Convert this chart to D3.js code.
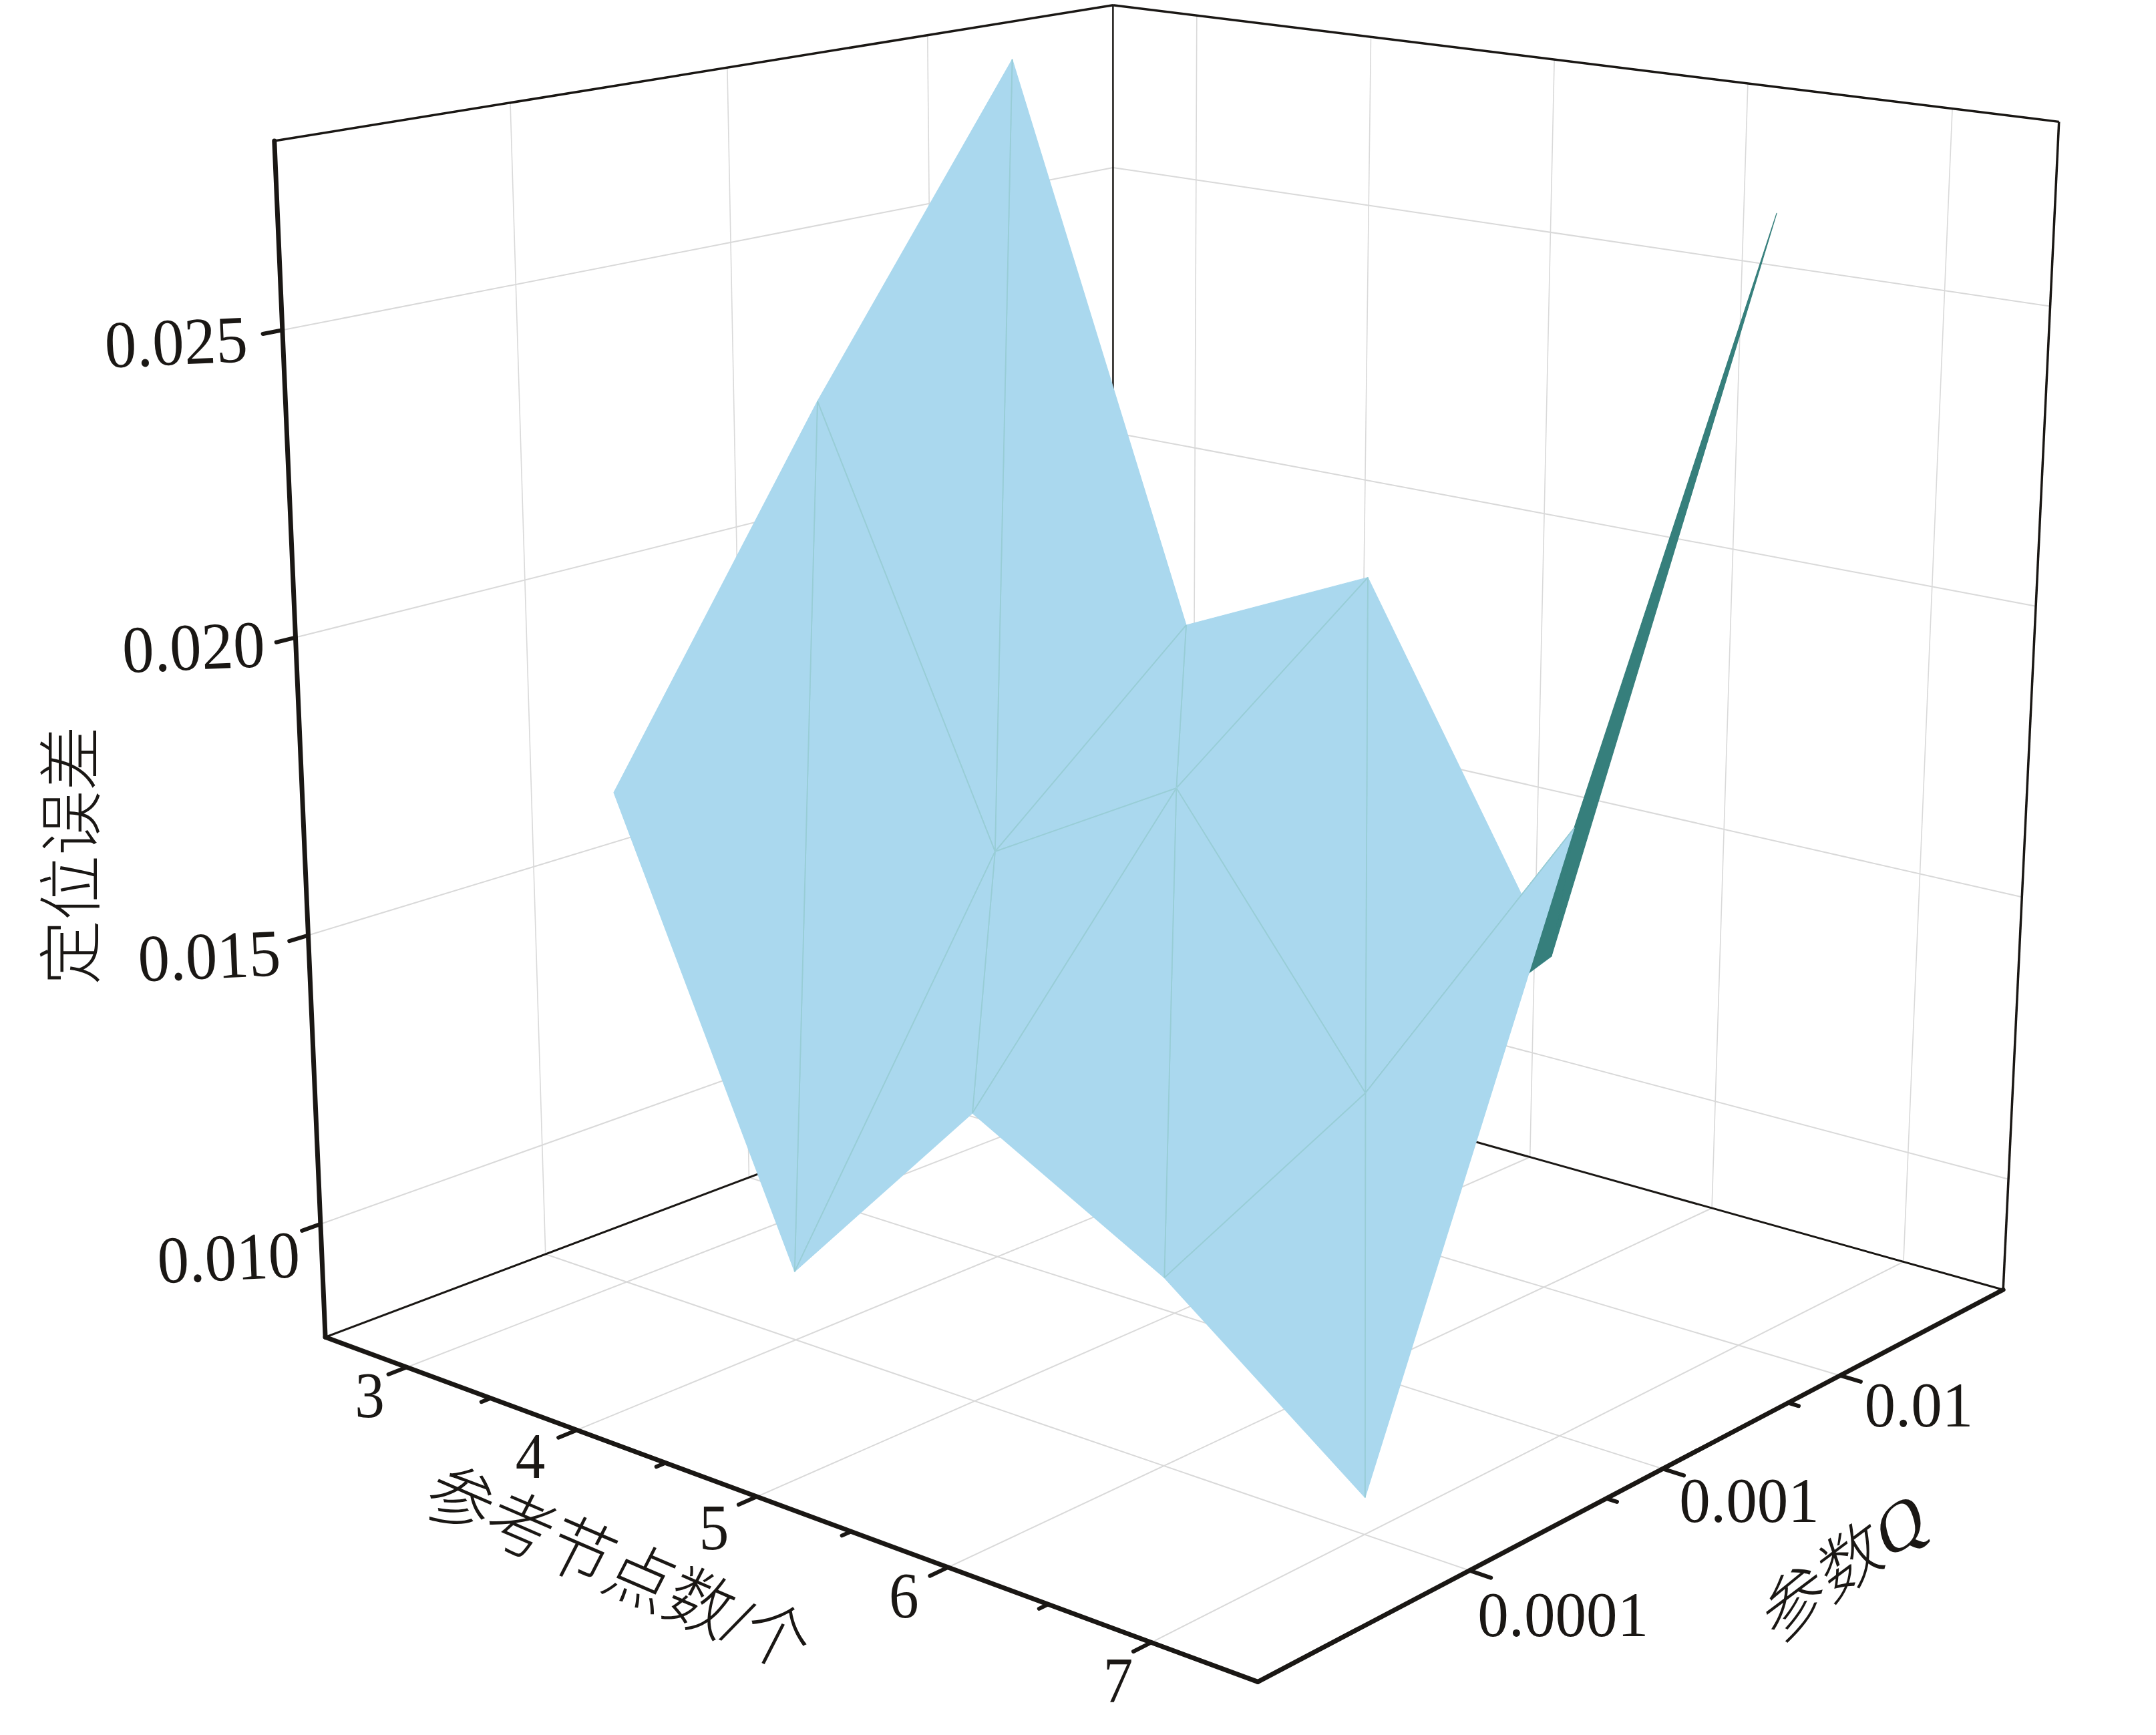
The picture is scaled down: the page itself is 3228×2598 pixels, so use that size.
<!DOCTYPE html>
<html>
<head>
<meta charset="UTF-8">
<style>
body { margin: 0; background: #fff; }
text { font-family: "Liberation Serif", "Noto Sans CJK SC"; fill: #1a1714; }
.cjk { font-weight: 300; }
</style>
</head>
<body>
<svg id="chart" width="3228" height="2598"></svg>
<script src="https://d3js.org/d3.v7.min.js"></script>
<script>

// values
const nodeCounts = [3, 4, 5, 6, 7];
const qValues = [0.0001, 0.001, 0.01];
const errorAtQ4 = [0.01669, 0.00921, 0.01292, 0.01115, 0.00861];
const errorAtQ3 = [0.02251, 0.01531, 0.01719, 0.01284, 0.01808];
const errorAtQ2 = [0.02777, 0.01828, 0.01979, 0.01392, 0.02696];
const errorRows = [errorAtQ4, errorAtQ3, errorAtQ2];

const nodeMinorTicks = [3.5, 4.5, 5.5, 6.5];
const qMinorTicks = [0.0005, 0.005];
const zTicks = [0.010, 0.015, 0.020, 0.025];
const qTickLabels = ["0.0001", "0.001", "0.01"];
const zTickLabels = ["0.010", "0.015", "0.020", "0.025"];

// layout: label offsets from the tick ends, in px
const nodeLabelShift = [[-28, 31], [-42, 27], [-37, 34], [-39, 30], [-23, 43]];
const qLabelShift = [[108, 55], [98, 37], [87, 35]];
const zLabelShift = [[-110, 40], [-120, 22], [-124, 7], [-130, 12]];

const blue = "#aad8ee", teal = "#367f7c", mesh = "#98cdd6";
const gridColor = "#d9d9d9", ink = "#1a1714";

let x = d3.scaleLinear().domain([2.5, 7.5]).range([0, 1]);
let y = d3.scaleLog().domain([1e-5, 1e-1]).range([0, 1]);
let z = d3.scaleLinear().domain([0.008, 0.028]).range([0, 1]);

// box corners on the page, used to fit the perspective of the 3D box
const boxCorners = [
  [[0, 0, 0], [488, 2003.5]], [[1, 0, 0], [1882, 2518]], [[1, 1, 0], [3000, 1931]], [[0, 1, 0], [1666, 1557]],
  [[0, 0, 1], [411, 210]], [[1, 1, 1], [3083, 183]], [[0, 1, 1], [1666, 8]]
];

function solve(A, b) {
  const n = b.length;
  const M = A.map((r, i) => [...r, b[i]]);
  for (let i = 0; i < n; i++) {
    let p = i;
    for (let r = i + 1; r < n; r++) if (Math.abs(M[r][i]) > Math.abs(M[p][i])) p = r;
    [M[i], M[p]] = [M[p], M[i]];
    for (let r = 0; r < n; r++) {
      if (r == i) continue;
      const f = M[r][i] / M[i][i];
      for (let c = i; c <= n; c++) M[r][c] -= f * M[i][c];
    }
  }
  return M.map((r, i) => r[n] / r[i]);
}

const rows = [], rhs = [];
boxCorners.forEach(([[X, Y, Z], [px, py]]) => {
  rows.push([X, Y, Z, 1, 0, 0, 0, 0, -px * X, -px * Y, -px * Z]); rhs.push(px);
  rows.push([0, 0, 0, 0, X, Y, Z, 1, -py * X, -py * Y, -py * Z]); rhs.push(py);
});
const AtA = d3.range(11).map(i => d3.range(11).map(j => d3.sum(rows, r => r[i] * r[j])));
const Atb = d3.range(11).map(i => d3.sum(rows, (r, k) => r[i] * rhs[k]));
const m = solve(AtA, Atb);

function project([X, Y, Z]) {
  const w = m[8] * X + m[9] * Y + m[10] * Z + 1;
  return [(m[0] * X + m[1] * Y + m[2] * Z + m[3]) / w, (m[4] * X + m[5] * Y + m[6] * Z + m[7]) / w];
}

let svg = d3.select("#chart");
const line = d3.line();

function seg(g, a, b, color, width, cap) {
  return g.append("path")
    .attr("d", line([project(a), project(b)]))
    .attr("fill", "none")
    .attr("stroke", color)
    .attr("stroke-width", width)
    .attr("stroke-linecap", cap || "butt");
}

// gridlines on the floor and the two back walls
const grid = svg.append("g").attr("id", "grid");
nodeCounts.forEach(n => {
  seg(grid, [x(n), 0, 0], [x(n), 1, 0], gridColor, 2);
  seg(grid, [x(n), 1, 0], [x(n), 1, 1], gridColor, 1.6);
});
qValues.forEach(q => {
  seg(grid, [0, y(q), 0], [1, y(q), 0], gridColor, 2);
  seg(grid, [0, y(q), 0], [0, y(q), 1], gridColor, 1.6);
});
zTicks.forEach(t => {
  seg(grid, [0, 0, z(t)], [0, 1, z(t)], gridColor, 2);
  seg(grid, [0, 1, z(t)], [1, 1, z(t)], gridColor, 2);
});

// thin frame behind the surface
const frame = svg.append("g").attr("id", "frame");
seg(frame, [0, 0, 0], [0, 1, 0], ink, 3);
seg(frame, [0, 1, 0], [1, 1, 0], ink, 3);
seg(frame, [0, 1, 0], [0, 1, 1], ink, 2.5);
seg(frame, [0, 0, 1], [0, 1, 1], ink, 3.5);
seg(frame, [0, 1, 1], [1, 1, 1], ink, 3.5);
seg(frame, [1, 1, 0], [1, 1, 1], ink, 3.5);

// surface triangles as grid indices, far cells first
const lastI = nodeCounts.length - 1, lastJ = qValues.length - 1;
const triangles = [];
d3.range(lastI).forEach(i => {
  d3.range(lastJ - 1, -1, -1).forEach(j => {
    triangles.push([[i + 1, j], [i + 1, j + 1], [i, j + 1]]);
    triangles.push([[i, j], [i + 1, j], [i, j + 1]]);
  });
});

const vertex = ([i, j]) => project([x(nodeCounts[i]), y(qValues[j]), z(errorRows[j][i])]);

function facesViewer(pts) {
  const [a, b, c] = pts;
  return (b[0] - a[0]) * (c[1] - a[1]) - (b[1] - a[1]) * (c[0] - a[0]);
}

// an edge along the rim of the grid gets no mesh line
function onRim(a, b) {
  return (a[0] == b[0] && (a[0] == 0 || a[0] == lastI)) || (a[1] == b[1] && (a[1] == 0 || a[1] == lastJ));
}

const surface = svg.append("g").attr("id", "surface");
triangles.forEach(t => {
  const pts = t.map(vertex);
  const front = facesViewer(pts) < 0;
  const color = front ? blue : teal;
  surface.append("path")
    .attr("d", line(pts) + "Z")
    .attr("fill", color)
    .attr("stroke", color)
    .attr("stroke-width", 1.2)
    .attr("stroke-linejoin", "round");
  if (!front) return;
  d3.range(3).forEach(k => {
    const a = t[k], b = t[(k + 1) % 3];
    if (onRim(a, b)) return;
    surface.append("path")
      .attr("d", line([vertex(a), vertex(b)]))
      .attr("fill", "none")
      .attr("stroke", mesh)
      .attr("stroke-width", 1.8);
  });
});

// heavy front axes
const axes = svg.append("g").attr("id", "axes");
seg(axes, [0, 0, 0], [0, 0, 1], ink, 7, "round");
seg(axes, [0, 0, 0], [1, 0, 0], ink, 7, "round");
seg(axes, [1, 0, 0], [1, 1, 0], ink, 7, "round");

const major = 0.02, minor = 0.01;
nodeCounts.forEach(n => seg(axes, [x(n), 0, 0], [x(n), -major, 0], ink, 6, "round"));
nodeMinorTicks.forEach(n => seg(axes, [x(n), 0, 0], [x(n), -minor, 0], ink, 6, "round"));
qValues.forEach(q => seg(axes, [1, y(q), 0], [1 + major, y(q), 0], ink, 6, "round"));
qMinorTicks.forEach(q => seg(axes, [1, y(q), 0], [1 + minor, y(q), 0], ink, 6, "round"));
zTicks.forEach(t => seg(axes, [0, 0, z(t)], [0, -major, z(t)], ink, 6, "round"));

// tick labels
function tickLabel(text, at, shift, size, sx, rot) {
  const p = project(at);
  svg.append("text")
    .attr("transform", `translate(${p[0] + shift[0]},${p[1] + shift[1]}) rotate(${rot}) scale(${sx},1)`)
    .attr("text-anchor", "middle")
    .attr("y", size * 0.338)
    .attr("font-size", size)
    .text(text);
}

nodeCounts.forEach((n, i) => tickLabel(n, [x(n), -major, 0], nodeLabelShift[i], 97, 0.92, 0));
qValues.forEach((q, i) => tickLabel(qTickLabels[i], [1 + major, y(q), 0], qLabelShift[i], 96, 0.97, 0));
zTicks.forEach((t, i) => tickLabel(zTickLabels[i], [0, -major, z(t)], zLabelShift[i], 100, 0.95, -2.5));

// axis titles, sheared to lie along the box
function title(text, mat, size) {
  svg.append("text")
    .attr("class", "cjk")
    .attr("transform", `matrix(${mat.join(",")})`)
    .attr("text-anchor", "middle")
    .attr("y", size * 0.35)
    .attr("font-size", size)
    .text(text);
}

title("定位误差", [0, -1, 1, 0, 107, 1281], 97);
title("参考节点数/个", [0.88, 0.38, -0.47, 0.92, 926, 2349], 102);
title("参数Q", [0.8, -0.6, 0.3, 0.9, 2760, 2346], 106);

</script>
</body>
</html>
